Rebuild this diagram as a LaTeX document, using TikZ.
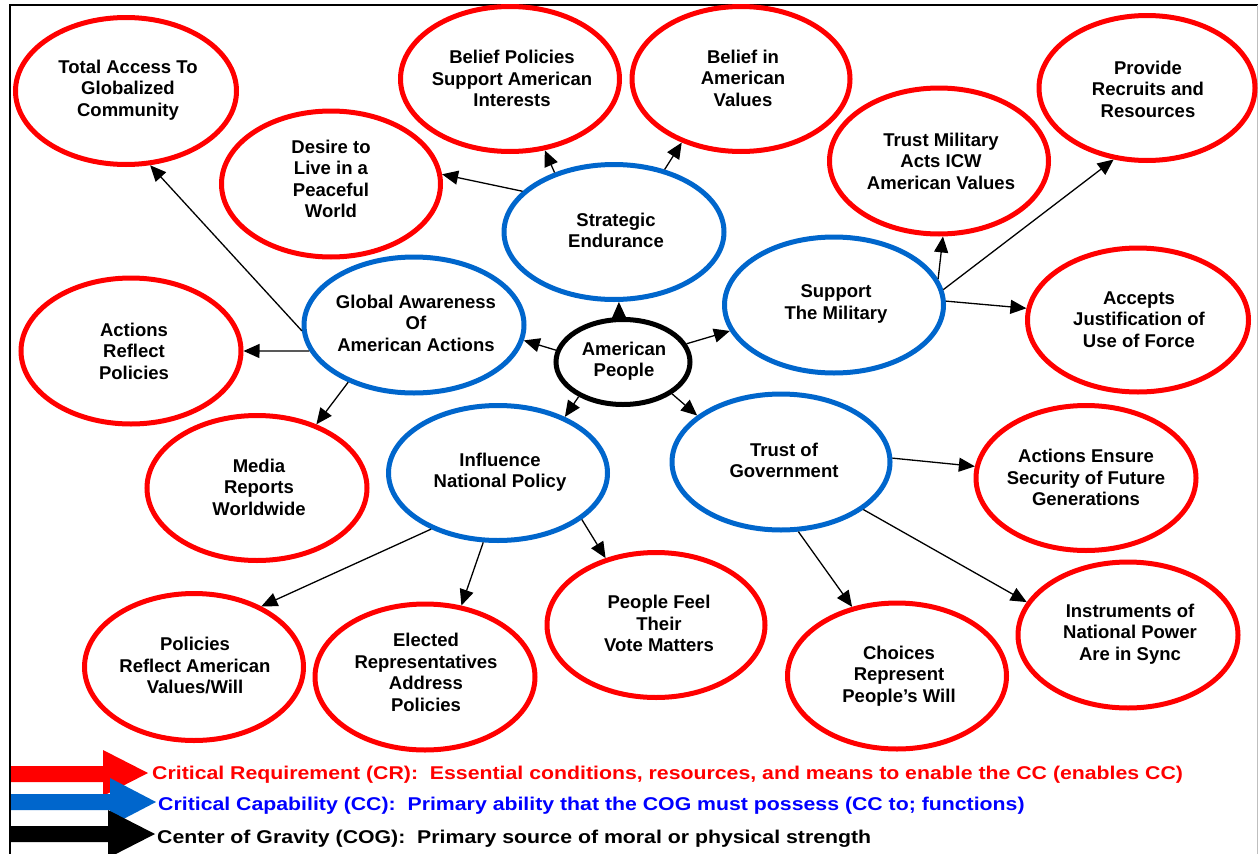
\documentclass[tikz,border=0pt]{standalone}
\usepackage{fontspec}
\setmainfont{Liberation Sans}
\usetikzlibrary{shapes.geometric,arrows.meta}
\definecolor{crred}{RGB}{255,0,0}
\definecolor{ccblue}{RGB}{0,102,204}
\definecolor{legblue}{RGB}{0,0,255}
\begin{document}
\begin{tikzpicture}[x=1pt,y=-1pt,
  ell/.style={ellipse, draw, line width=5pt, inner sep=0pt},
  crell/.style={ell, draw=crred},
  ccell/.style={ell, draw=ccblue},
  cogell/.style={ell, draw=black},
  lbl/.style={font=\bfseries\fontsize{18.5}{21.5}\selectfont, align=center, inner sep=0pt},
  legtxt/.style={font=\bfseries\fontsize{18.5}{21.5}\selectfont, anchor=west, inner sep=0pt},
  conn/.style={-{Triangle[length=16pt,width=14pt]}, line width=1.3pt}]
\useasboundingbox (0,0) rectangle (1259,854);
\fill[white] (0,0) rectangle (1259,854);
% frame
\draw[line width=2pt] (10,856) -- (10,5) -- (1258,5);
\draw[gray!50, line width=1pt] (1257.5,5) -- (1257.5,856);
% ellipses
\node[crell, minimum width=221pt, minimum height=147pt] (ta) at (126,91) {};
\node[crell, minimum width=219pt, minimum height=146pt] (dl) at (331,184) {};
\node[crell, minimum width=219pt, minimum height=145pt] (bp) at (510,79) {};
\node[crell, minimum width=218pt, minimum height=145pt] (bv) at (741,79) {};
\node[crell, minimum width=216pt, minimum height=145pt] (pr) at (1147,88) {};
\node[crell, minimum width=219pt, minimum height=146pt] (tm) at (939,161) {};
\node[ccell, minimum width=220pt, minimum height=135pt] (se) at (614,232) {};
\node[ccell, minimum width=220pt, minimum height=136pt] (ga) at (414,325) {};
\node[ccell, minimum width=219pt, minimum height=136pt] (sm) at (834,305) {};
\node[crell, minimum width=221pt, minimum height=144pt] (aj) at (1138,320) {};
\node[crell, minimum width=220pt, minimum height=146pt] (ar) at (131,351) {};
\node[cogell, minimum width=134pt, minimum height=85pt] (ap) at (623,362) {};
\node[ccell, minimum width=219pt, minimum height=135pt] (in) at (498,473) {};
\node[ccell, minimum width=218pt, minimum height=136pt] (tg) at (781,462) {};
\node[crell, minimum width=220pt, minimum height=145pt] (mr) at (257,488) {};
\node[crell, minimum width=220pt, minimum height=145pt] (ae) at (1086,478) {};
\node[crell, minimum width=218pt, minimum height=145pt] (pf) at (656,625) {};
\node[crell, minimum width=219pt, minimum height=147pt] (po) at (194,667) {};
\node[crell, minimum width=220pt, minimum height=146pt] (el) at (425,677) {};
\node[crell, minimum width=219pt, minimum height=146pt] (ch) at (897,676) {};
\node[crell, minimum width=220pt, minimum height=146pt] (is) at (1128,635) {};
% texts
\node[lbl] (ta-t) at (128,90) {Total Access To\\Globalized\\Community};
\node[lbl] (dl-t) at (331,179) {Desire to\\Live in a\\Peaceful\\World};
\node[lbl] (bp-t) at (512,78.5) {Belief Policies\\Support American\\Interests};
\node[lbl] (bv-t) at (743,78) {Belief in\\American\\Values};
\node[lbl] (pr-t) at (1148,89) {Provide\\Recruits and\\Resources};
\node[lbl] (tm-t) at (941,161) {Trust Military\\Acts ICW\\American Values};
\node[lbl] (se-t) at (616,230.5) {Strategic\\Endurance};
\node[lbl] (ga-t) at (416,323) {Global Awareness\\Of\\American Actions};
\node[lbl] (sm-t) at (836,304) {Support\\The Military};
\node[lbl] (aj-t) at (1139,319.5) {Accepts\\Justification of\\Use of Force};
\node[lbl] (ar-t) at (134,351) {Actions\\Reflect\\Policies};
\node[lbl] (ap-t) at (624,361) {American\\People};
\node[lbl] (in-t) at (500,472) {Influence\\National Policy};
\node[lbl] (tg-t) at (784,460.5) {Trust of\\Government};
\node[lbl] (mr-t) at (259,487) {Media\\Reports\\Worldwide};
\node[lbl] (ae-t) at (1086,477.5) {Actions Ensure\\Security of Future\\Generations};
\node[lbl] (pf-t) at (659,623.5) {People Feel\\Their\\Vote Matters};
\node[lbl] (po-t) at (195,665.5) {Policies\\Reflect American\\Values/Will};
\node[lbl] (el-t) at (426,672.5) {Elected\\Representatives\\Address\\Policies};
\node[lbl] (ch-t) at (899,676) {Choices\\Represent\\People’s Will};
\node[lbl] (is-t) at (1130,634) {Instruments of\\National Power\\Are in Sync};
% connectors
\draw[conn] (ap.95) -- (se.-86);
\draw[conn] (ap.170.8) -- (ga.-8);
\draw[conn] (ap.16.2) -- (sm.-166.8);
\draw[conn] (ap.-142.7) -- (in.40.5);
\draw[conn] (ap.-33.4) -- (tg.151.2);
\draw[conn] (se.156.6) -- (dl.5.7);
\draw[conn] (se.135) -- (bp.-64);
\draw[conn] (se.51) -- (bv.-133.6);
\draw[conn] (ga.183.2) -- (ta.-72.5);
\draw[conn] (ga.-166) -- (ar.-0.5);
\draw[conn] (ga.-139.5) -- (mr.47.8);
\draw[conn] (sm.14.4) -- (tm.-87);
\draw[conn] (sm.8.7) -- (pr.-115);
\draw[conn] (sm.2.6) -- (aj.174.8);
\draw[conn] (in.-140) -- (po.42.8);
\draw[conn] (in.-102.6) -- (el.63.4);
\draw[conn] (in.-29.9) -- (pf.127.3);
\draw[conn] (tg.2.6) -- (ae.174.3);
\draw[conn] (tg.-76) -- (ch.123.3);
\draw[conn] (tg.-30.8) -- (is.162.6);
% legend arrows
\fill[crred] (11,766) -- (103,766) -- (103,750) -- (148,773) -- (103,796) -- (103,782) -- (11,782) -- cycle;
\fill[ccblue] (11,794) -- (110,794) -- (110,778) -- (156,802) -- (110,826) -- (110,810) -- (11,810) -- cycle;
\fill[black] (11,826) -- (108,826) -- (108,810) -- (155,834) -- (108,858) -- (108,842) -- (11,842) -- cycle;
% legend texts
\node[legtxt, text=crred] (leg-cr) at (152,775) {\scalebox{1.15}[1]{Critical Requirement (CR):\ \ Essential conditions, resources, and means to enable the CC (enables CC)}};
\node[legtxt, text=legblue] (leg-cc) at (158,806) {\scalebox{1.15}[1]{Critical Capability (CC):\ \ Primary ability that the COG must possess (CC to; functions)}};
\node[legtxt, text=black] (leg-cog) at (157,838.5) {\scalebox{1.15}[1]{Center of Gravity (COG):\ \ Primary source of moral or physical strength}};
\end{tikzpicture}
\end{document}
